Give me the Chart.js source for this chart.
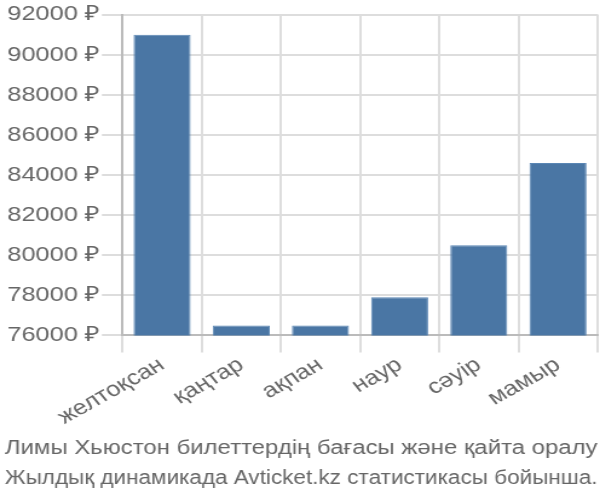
<!DOCTYPE html>
<html>
<head>
<meta charset="utf-8">
<script src="https://cdn.jsdelivr.net/npm/chart.js@4/dist/chart.umd.min.js"></script>
<style>
  html, body { margin: 0; padding: 0; background: #fff; overflow: hidden; }
  /* the reference text is horizontally stretched, so draw narrower and stretch */
  #wrap { width: 496px; height: 500px; transform: scaleX(1.2097); transform-origin: 0 0; }
</style>
</head>
<body>
<div id="wrap"><canvas id="priceChart"></canvas></div>
<script>
var months = ["желтоқсан", "қаңтар", "ақпан", "наур", "сәуір", "мамыр"];
var prices = [91000, 76500, 76500, 77900, 80500, 84600];
var titleLines = ["Лимы Хьюстон билеттердің бағасы және қайта оралу", "Жылдық динамикада Avticket.kz статистикасы бойынша."];

Chart.defaults.font.family = "'Liberation Sans', Arial, sans-serif";
Chart.defaults.color = "#666";

new Chart("priceChart", {
    type: "bar",
    data: {
        labels: months,
        datasets: [{
            data: prices,
            backgroundColor: "#4a76a4",
            borderColor: "#5a86b4",
            borderWidth: 1,
            categoryPercentage: 0.8,
            barPercentage: 0.9
        }]
    },
    options: {
        responsive: true,
        maintainAspectRatio: false,
        animation: false,
        layout: { padding: { left: 4, right: 2, top: 4, bottom: 7 } },
        plugins: {
            legend: { display: false },
            tooltip: { enabled: false },
            title: {
                display: true,
                position: "bottom",
                text: titleLines,
                font: { size: 20, weight: "normal", lineHeight: 1.5 },
                color: "#666",
                padding: { top: 3, bottom: 0 }
            }
        },
        scales: {
            x: {
                grid: { color: "#ddd", lineWidth: 2, tickLength: 17, offset: true },
                border: { color: "#bbb", width: 2 },
                ticks: {
                    font: { size: 21 },
                    maxRotation: 34,
                    minRotation: 34,
                    padding: 0
                }
            },
            y: {
                min: 76000,
                max: 92000,
                grid: { color: "#ddd", lineWidth: 2, tickLength: 17 },
                border: { color: "#bbb", width: 2 },
                ticks: {
                    stepSize: 2000,
                    font: { size: 21 },
                    padding: 2,
                    callback: function (v) { return v + " ₽"; }
                }
            }
        }
    }
});
</script>
</body>
</html>
